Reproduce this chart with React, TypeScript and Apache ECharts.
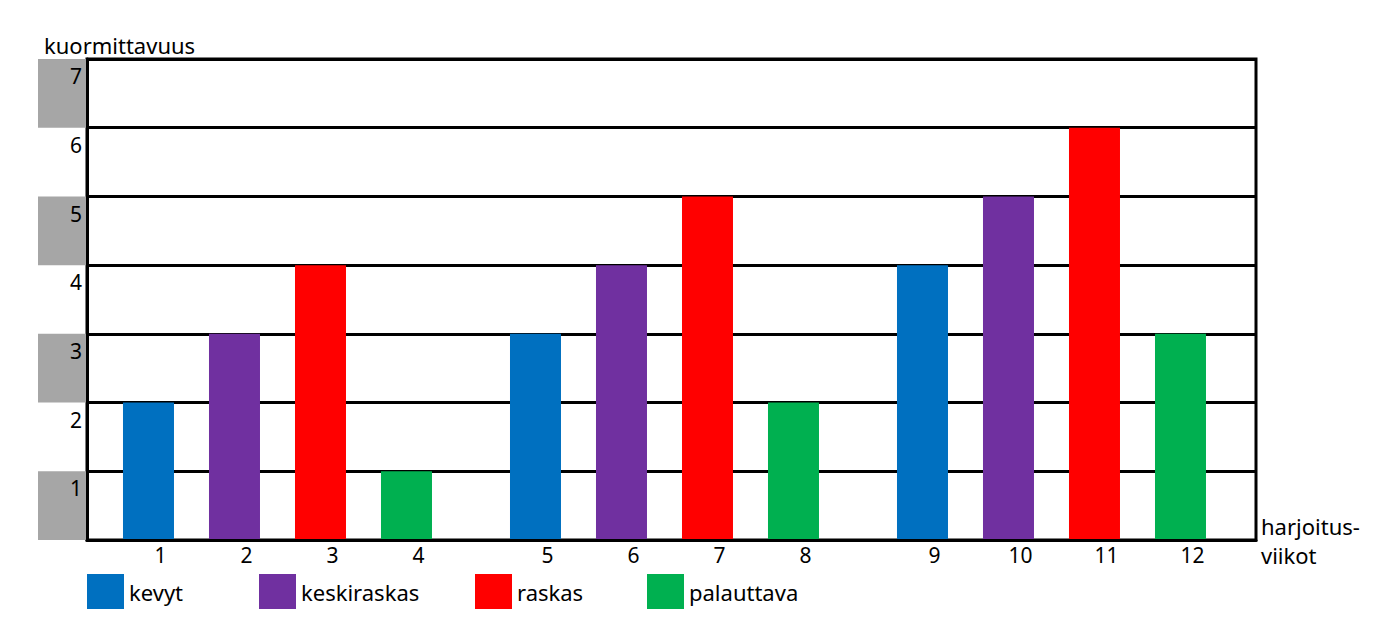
import React, { useEffect, useRef } from "react";
import * as echarts from "echarts";

const weekLabels = ["1", "2", "3", "4", "5", "6", "7", "8", "9", "10", "11", "12"];
const loads = [2, 3, 4, 1, 3, 4, 5, 2, 4, 5, 6, 3];
const weekTypes = [
  "kevyt", "keskiraskas", "raskas", "palauttava",
  "kevyt", "keskiraskas", "raskas", "palauttava",
  "kevyt", "keskiraskas", "raskas", "palauttava",
];
const typeNames = ["kevyt", "keskiraskas", "raskas", "palauttava"];
const typeColors = ["#0070c0", "#7030a0", "#ff0000", "#00b050"];
const yTicks = [1, 2, 3, 4, 5, 6, 7];
const shadedRows = [1, 3, 5, 7];
const yTitle = "kuormittavuus";
const xTitle = "harjoitus-\nviikot";

const FONT = "'Noto Sans', sans-serif";
const TEXT_SIZE = 22;
const NUM_SIZE = 21;

// slot of week i: 4-week blocks separated by a half-slot gap
const slotOf = (i: number) => i + Math.floor(i / 4) * 0.5;

export default function App() {
  const ref = useRef<HTMLDivElement>(null);

  useEffect(() => {
    if (!ref.current) return;
    const chart = echarts.init(ref.current, undefined, { renderer: "svg" });
    const slots = weekLabels.map((_, i) => slotOf(i));

    const barSeries = typeNames.map((name, k) => ({
      type: "bar",
      name,
      xAxisIndex: 0,
      yAxisIndex: 0,
      barWidth: 51,
      barGap: "-100%",
      z: 2,
      itemStyle: { color: typeColors[k] },
      data: loads
        .map((v, i) => (weekTypes[i] === name ? [slots[i], v] : null))
        .filter((d) => d !== null),
    }));

    const legendLefts = [87, 259, 475, 647];

    chart.setOption({
      animation: false,
      textStyle: { fontFamily: FONT, color: "#000" },
      title: {
        text: yTitle,
        left: 39,
        top: 29,
        textStyle: { fontFamily: FONT, fontSize: TEXT_SIZE, fontWeight: "normal", color: "#000" },
      },
      legend: typeNames.map((name, k) => ({
        data: [name],
        left: legendLefts[k],
        top: 574,
        padding: 0,
        itemWidth: 37,
        itemHeight: 35,
        icon: "rect",
        selectedMode: false,
        textStyle: { fontFamily: FONT, fontSize: TEXT_SIZE, color: "#000" },
      })),
      grid: [
        {
          left: 87,
          top: 59,
          width: 1169,
          height: 481,
          show: true,
          borderColor: "#000",
          borderWidth: 3,
          backgroundColor: "transparent",
          containLabel: false,
        },
        {
          left: 38,
          top: 59,
          width: 49,
          height: 481,
          containLabel: false,
        },
      ],
      xAxis: [
        {
          type: "value",
          gridIndex: 0,
          min: -0.715,
          max: 12.878,
          z: 3,
          name: xTitle,
          nameLocation: "end",
          nameGap: 5,
          nameTextStyle: {
            fontFamily: FONT,
            fontSize: TEXT_SIZE,
            color: "#000",
            align: "left",
            verticalAlign: "middle",
            lineHeight: 29,
          },
          axisLine: { show: true, onZero: false, lineStyle: { color: "#000", width: 3 } },
          axisTick: { show: false },
          splitLine: { show: false },
          axisLabel: {
            customValues: slots,
            formatter: (v: number) => {
              const idx = slots.findIndex((s) => Math.abs(s - v) < 1e-6);
              return idx >= 0 ? weekLabels[idx] : "";
            },
            fontFamily: FONT,
            fontSize: NUM_SIZE,
            color: "#000",
            margin: 4,
            padding: [0, 0, 0, 24],
          },
        },
        {
          type: "value",
          gridIndex: 1,
          min: 0,
          max: 1,
          show: false,
        },
      ],
      yAxis: [
        {
          type: "value",
          gridIndex: 0,
          min: 0,
          max: 7,
          interval: 1,
          z: 1,
          axisLine: { show: true, onZero: false, lineStyle: { color: "#000", width: 3 } },
          axisTick: { show: false },
          splitLine: { show: true, lineStyle: { color: "#000", width: 3 } },
          axisLabel: {
            customValues: yTicks.map((t) => t - 0.25),
            formatter: (v: number) => String(Math.round(v + 0.25)),
            fontFamily: FONT,
            fontSize: NUM_SIZE,
            color: "#000",
            margin: 5,
          },
        },
        {
          type: "value",
          gridIndex: 1,
          min: 0,
          max: 7,
          show: false,
        },
      ],
      series: [
        {
          type: "scatter",
          xAxisIndex: 1,
          yAxisIndex: 1,
          data: [],
          z: 0,
          silent: true,
          markArea: {
            silent: true,
            itemStyle: { color: "#a6a6a6" },
            data: shadedRows.map((r) => [{ yAxis: r - 1 }, { yAxis: r }]),
          },
        },
        ...barSeries,
      ],
    });

    return () => chart.dispose();
  }, []);

  return (
    <div
      ref={ref}
      style={{ position: "fixed", left: 0, top: 0, width: 1392, height: 639, background: "#fff" }}
    />
  );
}
